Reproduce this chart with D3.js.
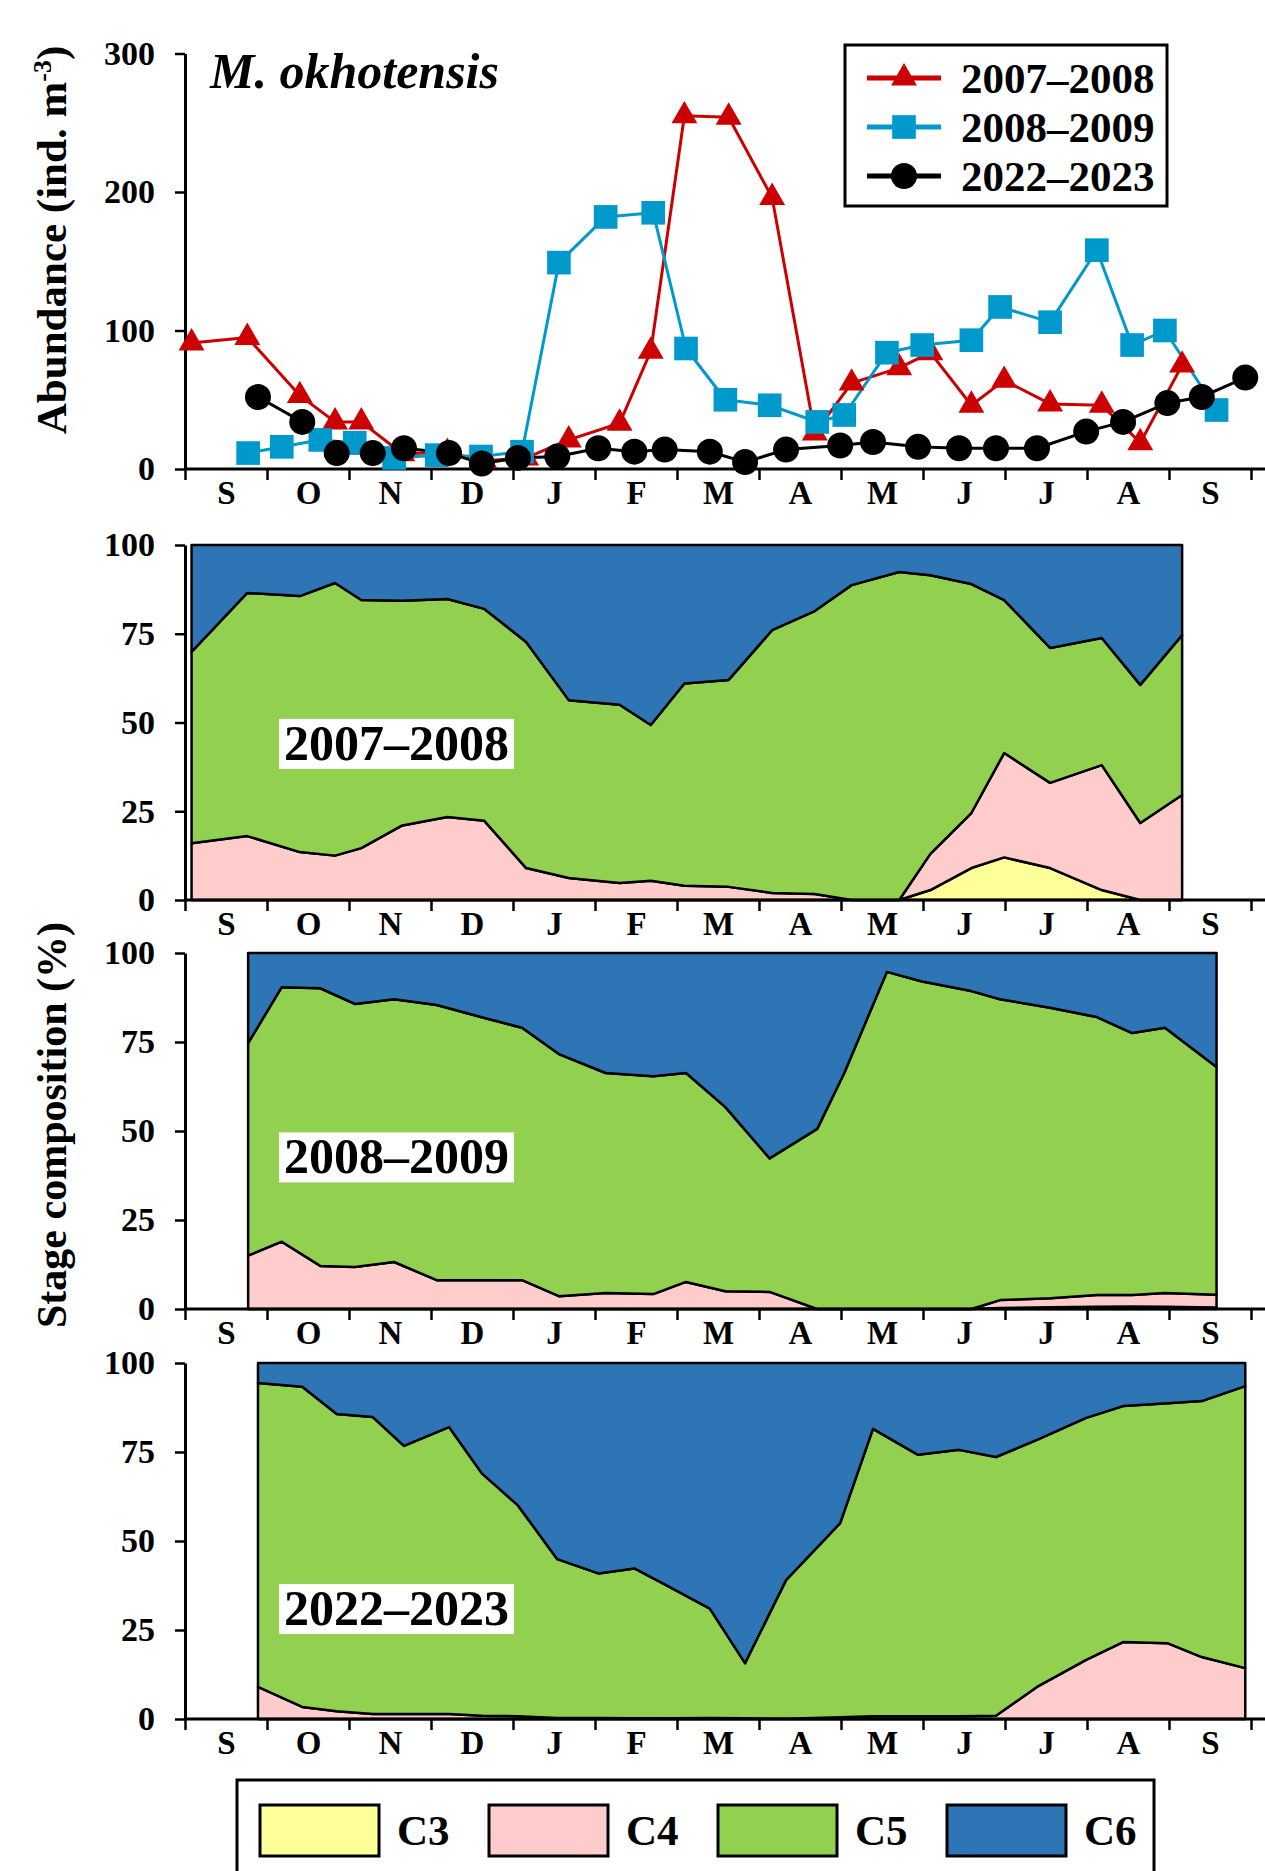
<!DOCTYPE html>
<html>
<head>
<meta charset="utf-8">
<script src="https://cdn.jsdelivr.net/npm/d3@7"></script>
<style>
  body { margin: 0; background: #fff; }
  svg text { font-family: "Liberation Serif", "Times New Roman", serif; font-weight: bold; fill: #000; }
</style>
</head>
<body>
<svg id="svg" width="1265" height="1871"></svg>
<script>
// month labels on the x axis (Sep -> Sep)
const months = ['S', 'O', 'N', 'D', 'J', 'F', 'M', 'A', 'M', 'J', 'J', 'A', 'S'];
const abundanceTicks = [0, 100, 200, 300];
const pctTicks = [0, 25, 50, 75, 100];
const stages = ['C3', 'C4', 'C5', 'C6'];
const stageColours = ['#ffff99', '#ffcccc', '#92d050', '#2e75b6'];

// sampling dates, in months since 1 September
const dates0708 = [0.08, 0.76, 1.40, 1.83, 2.15, 2.65, 3.20, 3.65, 4.16, 4.68, 5.30, 5.68, 6.09, 6.63, 7.16, 7.68, 8.13, 8.71, 9.09, 9.59, 9.99, 10.55, 11.18, 11.65, 12.16];
const dates0809 = [0.77, 1.18, 1.65, 2.07, 2.55, 3.07, 3.61, 4.11, 4.56, 5.13, 5.71, 6.11, 6.59, 7.13, 7.71, 8.04, 8.56, 8.99, 9.59, 9.94, 10.55, 11.12, 11.55, 11.95, 12.58];
const dates2223 = [0.89, 1.43, 1.85, 2.29, 2.67, 3.22, 3.62, 4.06, 4.54, 5.04, 5.48, 5.85, 6.40, 6.83, 7.33, 7.99, 8.39, 8.94, 9.44, 9.89, 10.39, 10.99, 11.44, 11.98, 12.40, 12.93];

// abundance (ind. m-3)
const abund0708 = [91, 95, 53, 34, 34, 11, 12, 6, 8, 21, 33, 85, 255, 254, 196, 26, 62, 73, 84, 46, 64, 47, 46, 19, 75];
const abund0809 = [11.5, 16, 21, 19, 8, 10, 9, 12.5, 149, 182, 185, 87, 50, 46, 34, 39, 84, 89.5, 93, 117, 106, 158, 89.5, 100, 42.6];
const abund2223 = [52, 34, 11.5, 11.5, 15, 11.5, 4, 8, 9, 15, 12.5, 14, 12.5, 5, 14, 17, 19.5, 16, 15, 15, 15, 27, 34, 47.6, 52, 66];

// stage composition (%)
const c3_0708 = [0, 0, 0, 0, 0, 0, 0, 0, 0, 0, 0, 0, 0, 0, 0, 0, 0, 0, 2.8, 9, 12, 9, 2.8, 0, 0];
const c4_0708 = [16, 18, 13.5, 12.5, 14.6, 21, 23.4, 22.3, 9, 6.2, 4.8, 5.4, 4, 3.7, 2, 1.7, 0, 0, 10.2, 15.5, 29.4, 24, 35.2, 21.7, 29.6];
const c5_0708 = [53.9, 68.5, 72.1, 76.8, 69.9, 63.3, 61.4, 59.7, 63.7, 50.1, 50.2, 43.9, 57, 58.3, 74, 79.7, 88.7, 92.4, 78.5, 64.5, 43.1, 38, 35.8, 38.9, 45];
const c6_0708 = [30.1, 13.5, 14.4, 10.7, 15.5, 15.7, 15.2, 18, 27.3, 43.7, 45, 50.7, 39, 38, 24, 18.6, 11.3, 7.6, 8.5, 11, 15.5, 29, 26.2, 39.4, 25.4];

const c3_0809 = [0, 0, 0, 0, 0, 0, 0, 0, 0, 0, 0, 0, 0, 0, 0, 0, 0, 0, 0, 0.3, 0.5, 0.6, 0.7, 0.6, 0.4];
const c4_0809 = [15, 18.9, 12.1, 11.8, 13.2, 8.1, 8.1, 8.1, 3.6, 4.5, 4.2, 7.6, 5, 4.8, 0, 0, 0, 0, 0, 2.2, 2.5, 3.3, 3.2, 3.9, 3.6];
const c5_0809 = [59.7, 71.5, 78, 73.9, 73.8, 77.3, 73.9, 70.9, 68, 61.8, 61.2, 58.7, 51.7, 37.5, 50.6, 66.3, 94.7, 92, 89.3, 84.5, 81.6, 78.1, 73.6, 74.5, 64];
const c6_0809 = [25.3, 9.6, 9.9, 14.3, 13, 14.6, 18, 21, 28.4, 33.7, 34.6, 33.7, 43.3, 57.7, 49.4, 33.7, 5.3, 8, 10.7, 13, 15.4, 18, 22.5, 21, 32];

const c3_2223 = [0, 0, 0, 0, 0, 0, 0, 0, 0, 0, 0, 0, 0, 0, 0, 0, 0, 0, 0, 0, 0, 0, 0, 0, 0, 0];
const c4_2223 = [9, 3.4, 2.2, 1.4, 1.4, 1.4, 0.9, 0.8, 0.3, 0.3, 0.2, 0.2, 0.3, 0.2, 0.1, 0.5, 0.8, 0.8, 0.8, 0.9, 9, 16.6, 21.6, 21.3, 17.4, 14.3];
const c5_2223 = [85.4, 89.9, 83.5, 83.4, 75.3, 80.6, 68.1, 59.2, 44.6, 40.6, 42.1, 37.6, 30.7, 15.5, 38.9, 54.5, 80.7, 73.4, 74.8, 72.7, 69.4, 68, 66.3, 67.4, 71.9, 79.2];
const c6_2223 = [5.6, 6.7, 14.3, 15.2, 23.3, 18, 31, 40, 55.1, 59.1, 57.7, 62.2, 69, 84.3, 61, 45, 18.5, 25.8, 24.4, 26.4, 21.6, 15.4, 12.1, 11.3, 10.7, 6.5];

const W = 1265;
const svg = d3.select('#svg');

const xScale = d3.scaleLinear().domain([0, 13]).range([185, 1251]);

function drawXAxis(y0) {
  svg.append('line')
    .attr('x1', xScale.range()[0]).attr('x2', W)
    .attr('y1', y0).attr('y2', y0)
    .attr('stroke', '#000').attr('stroke-width', 3);

  const ticks = svg.append('g')
    .attr('transform', `translate(0,${y0})`)
    .call(d3.axisBottom(xScale).tickValues(d3.range(0, 14)).tickSize(11).tickFormat(''));
  ticks.select('path.domain').remove();
  ticks.selectAll('line').attr('stroke-width', 2.5);

  const labels = svg.append('g')
    .attr('transform', `translate(0,${y0})`)
    .call(d3.axisBottom(xScale).tickValues(d3.range(13).map(d => d + 0.5)).tickSize(0).tickPadding(12)
      .tickFormat((d, i) => months[i]));
  labels.select('path.domain').remove();
  labels.attr('font-size', 33);
}

function drawYAxis(yScale, tickVals) {
  const g = svg.append('g')
    .attr('transform', `translate(${xScale.range()[0]},0)`)
    .call(d3.axisLeft(yScale).tickValues(tickVals).tickSize(10).tickSizeOuter(0).tickPadding(20));
  g.attr('font-size', 34);
  g.select('path.domain').attr('stroke-width', 3);
  g.selectAll('.tick line').attr('stroke-width', 2.5);
}

// ---------- abundance panel ----------
const yAbund = d3.scaleLinear().domain([0, 300]).range([469, 53.5]);

const series = [
  { name: '2007–2008', dates: dates0708, values: abund0708, colour: '#cc0000', symbol: d3.symbolTriangle, size: 290 },
  { name: '2008–2009', dates: dates0809, values: abund0809, colour: '#0099cc', symbol: d3.symbolSquare, size: 560 },
  { name: '2022–2023', dates: dates2223, values: abund2223, colour: '#000000', symbol: d3.symbolCircle, size: 530 }
];

drawXAxis(yAbund(0));
drawYAxis(yAbund, abundanceTicks);

const line = d3.line().x(d => xScale(d[0])).y(d => yAbund(d[1]));

// lines of all series first, then the markers (as in the original)
series.forEach(s => {
  svg.append('path')
    .datum(d3.zip(s.dates, s.values))
    .attr('d', line)
    .attr('fill', 'none')
    .attr('stroke', s.colour)
    .attr('stroke-width', 3)
    .attr('stroke-linejoin', 'round');
});
series.forEach(s => {
  svg.append('g').selectAll('path')
    .data(d3.zip(s.dates, s.values))
    .join('path')
    .attr('d', d3.symbol(s.symbol, s.size))
    .attr('transform', d => `translate(${xScale(d[0])},${yAbund(d[1])})`)
    .attr('fill', s.colour);
});

svg.append('text')
  .attr('x', 210).attr('y', 88)
  .style('font-size', '50px').style('font-style', 'italic')
  .text('M. okhotensis');

// legend for abundance
const legend = svg.append('g');
legend.append('rect')
  .attr('x', 845).attr('y', 45).attr('width', 322).attr('height', 161)
  .attr('fill', '#fff').attr('stroke', '#000').attr('stroke-width', 3);
series.forEach((s, i) => {
  const cy = 78 + i * 49;
  legend.append('line')
    .attr('x1', 867).attr('x2', 941).attr('y1', cy).attr('y2', cy)
    .attr('stroke', s.colour).attr('stroke-width', 5);
  legend.append('path')
    .attr('d', d3.symbol(s.symbol, s.size))
    .attr('transform', `translate(904,${cy})`)
    .attr('fill', s.colour);
  legend.append('text')
    .attr('x', 961).attr('y', cy + 15)
    .style('font-size', '43px')
    .text(s.name);
});

// ---------- stage composition panels ----------
const panels = [
  { name: '2007–2008', top: 545, bottom: 900, labelPct: 44.4, dates: dates0708, C3: c3_0708, C4: c4_0708, C5: c5_0708, C6: c6_0708 },
  { name: '2008–2009', top: 953, bottom: 1309, labelPct: 43, dates: dates0809, C3: c3_0809, C4: c4_0809, C5: c5_0809, C6: c6_0809 },
  { name: '2022–2023', top: 1363, bottom: 1719, labelPct: 31.3, dates: dates2223, C3: c3_2223, C4: c4_2223, C5: c5_2223, C6: c6_2223 }
];

const stack = d3.stack().keys(stages);

panels.forEach(p => {
  const yScale = d3.scaleLinear().domain([0, 100]).range([p.bottom, p.top]);
  const rows = p.dates.map((m, i) => ({ m: m, C3: p.C3[i], C4: p.C4[i], C5: p.C5[i], C6: p.C6[i] }));
  const layers = stack(rows);

  const area = d3.area()
    .x(d => xScale(d.data.m))
    .y0(d => yScale(d[0]))
    .y1(d => yScale(d[1]));

  svg.append('g').selectAll('path')
    .data(layers)
    .join('path')
    .attr('d', area)
    .attr('fill', (d, i) => stageColours[i])
    .attr('stroke', '#000')
    .attr('stroke-width', 2.5)
    .attr('stroke-linejoin', 'round');

  drawXAxis(yScale(0));
  drawYAxis(yScale, pctTicks);

  const lab = svg.append('g');
  const txt = lab.append('text')
    .attr('x', 284).attr('y', yScale(p.labelPct))
    .attr('dy', '0.35em')
    .style('font-size', '50px')
    .text(p.name);
  const bb = txt.node().getBBox();
  lab.insert('rect', 'text')
    .attr('x', bb.x - 5).attr('y', bb.y + 4)
    .attr('width', bb.width + 10).attr('height', bb.height - 6)
    .attr('fill', '#fff');
});

// ---------- axis titles ----------
const t1 = svg.append('text')
  .attr('transform', `translate(66,240) rotate(-90)`)
  .attr('text-anchor', 'middle')
  .style('font-size', '43px');
t1.append('tspan').text('Abundance (ind. m');
t1.append('tspan').attr('dy', -15).style('font-size', '26px').text('-3');
t1.append('tspan').attr('dy', 15).text(')');

svg.append('text')
  .attr('transform', `translate(66,1125) rotate(-90)`)
  .attr('text-anchor', 'middle')
  .style('font-size', '42px')
  .text('Stage composition (%)');

// ---------- stage legend ----------
const stageLegend = svg.append('g');
stageLegend.append('rect')
  .attr('x', 237).attr('y', 1780).attr('width', 917).attr('height', 120)
  .attr('fill', '#fff').attr('stroke', '#000').attr('stroke-width', 3);
stages.forEach((s, i) => {
  const x0 = 260 + i * 229;
  stageLegend.append('rect')
    .attr('x', x0).attr('y', 1805).attr('width', 119).attr('height', 51)
    .attr('fill', stageColours[i]).attr('stroke', '#000').attr('stroke-width', 3);
  stageLegend.append('text')
    .attr('x', x0 + 137).attr('y', 1845)
    .style('font-size', '43px')
    .text(s);
});
</script>
</body>
</html>
